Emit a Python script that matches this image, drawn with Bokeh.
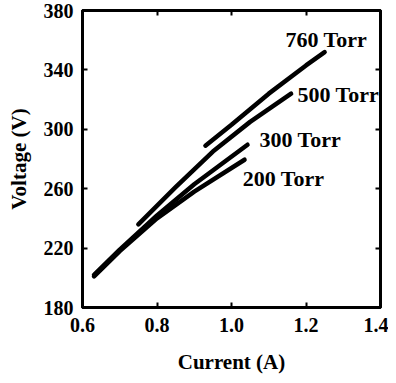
from bokeh.plotting import figure
from bokeh.models import LinearAxis, FixedTicker, Range1d, PrintfTickFormatter
from bokeh.core.properties import value
from bokeh.embed import file_html
from bokeh.resources import INLINE

# Data
x_760 = [0.93, 1.00, 1.10, 1.20, 1.25]
y_760 = [289, 303, 324, 343, 352]
x_500 = [0.75, 0.85, 0.95, 1.05, 1.16]
y_500 = [236, 261, 285, 305, 324]
x_300 = [0.631, 0.70, 0.80, 0.90, 1.043]
y_300 = [202, 219, 242, 263, 289.6]
x_200 = [0.631, 0.70, 0.80, 0.90, 1.035]
y_200 = [201, 218, 240, 258, 279.5]

label_text = ["760 Torr", "500 Torr", "300 Torr", "200 Torr"]
label_x = [1.145, 1.177, 1.075, 1.030]
label_y = [360.8, 323.6, 293.2, 267.0]

x_ticks = [0.6, 0.8, 1.0, 1.2, 1.4]
y_ticks = [180, 220, 260, 300, 340, 380]

FONT = "Liberation Serif"

p = figure(frame_width=298, frame_height=297, min_border_left=82, min_border_right=8,
           min_border_top=10, min_border_bottom=55,
           x_range=Range1d(0.6, 1.4), y_range=Range1d(180, 380),
           output_backend="svg", toolbar_location=None,
           x_axis_label="Current (A)", y_axis_label="Voltage (V)")
p.grid.visible = False
p.outline_line_color = "black"
p.outline_line_width = 3
p.background_fill_color = "white"
p.border_fill_color = "white"

for xs, ys in [(x_760, y_760), (x_500, y_500), (x_300, y_300), (x_200, y_200)]:
    p.line(xs, ys, line_width=4.5, line_color="black", line_cap="round", line_join="round")

p.text(x=label_x, y=label_y, text=label_text, text_font=value(FONT), text_font_style="bold",
       text_font_size="22px", text_align="left", text_baseline="middle", text_color="black")

top = LinearAxis()
right = LinearAxis()
p.add_layout(top, "above")
p.add_layout(right, "right")

for ax in p.xaxis:
    ax.ticker = FixedTicker(ticks=x_ticks)
    ax.formatter = PrintfTickFormatter(format="%.1f")
for ax in p.yaxis:
    ax.ticker = FixedTicker(ticks=y_ticks)

for ax in p.axis:
    ax.axis_line_width = 3
    ax.axis_line_color = "black"
    ax.major_tick_in = 5
    ax.major_tick_out = 0
    ax.major_tick_line_width = 2
    ax.major_tick_line_color = "black"
    ax.minor_tick_in = 0
    ax.minor_tick_out = 0
    ax.major_label_text_font = FONT
    ax.major_label_text_font_style = "bold"
    ax.major_label_text_font_size = "20px"
    ax.major_label_text_color = "black"
    ax.axis_label_text_font = FONT
    ax.axis_label_text_font_style = "bold"
    ax.axis_label_text_font_size = "21px"
    ax.axis_label_text_color = "black"

p.below[0].major_label_standoff = 10
p.below[0].axis_label_standoff = 15
p.left[0].major_label_standoff = 9
p.left[0].axis_label_standoff = 10

for ax in (top, right):
    ax.major_label_text_font_size = "0px"
    ax.major_label_text_alpha = 0
    ax.major_label_standoff = 0
    ax.axis_label = None

open("out.html", "w").write(file_html(p, INLINE))
